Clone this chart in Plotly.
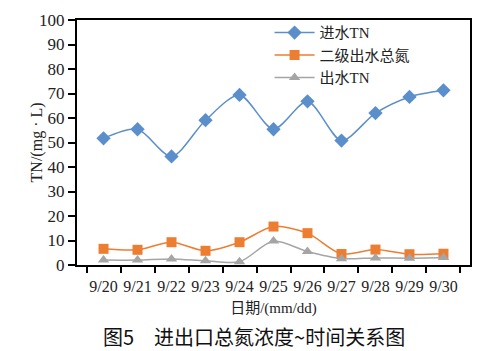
import plotly.graph_objects as go

dates = ["9/20", "9/21", "9/22", "9/23", "9/24", "9/25", "9/26", "9/27", "9/28", "9/29", "9/30"]
inflow_tn = [51.7, 55.4, 44.3, 59.1, 69.4, 55.4, 66.8, 50.8, 62.0, 68.6, 71.3]
secondary_tn = [6.6, 6.2, 9.3, 5.8, 9.3, 15.7, 13.0, 4.5, 6.3, 4.4, 4.6]
outflow_tn = [2.0, 2.0, 2.5, 1.7, 1.3, 9.8, 5.5, 2.6, 2.9, 2.8, 3.1]
y_ticks = [0, 10, 20, 30, 40, 50, 60, 70, 80, 90, 100]

serif = "Liberation Serif, Noto Sans CJK SC, serif"

fig = go.Figure()
fig.add_trace(go.Scatter(x=dates, y=inflow_tn, name="进水TN", mode="lines+markers",
                         line=dict(color="#5B8FCB", width=1.5, shape="spline", smoothing=0.8),
                         marker=dict(symbol="diamond", size=11, color="#5B8FCB")))
fig.add_trace(go.Scatter(x=dates, y=secondary_tn, name="二级出水总氮", mode="lines+markers",
                         line=dict(color="#ED7D31", width=1.5, shape="spline", smoothing=0.8),
                         marker=dict(symbol="square", size=10, color="#ED7D31")))
fig.add_trace(go.Scatter(x=dates, y=outflow_tn, name="出水TN", mode="lines+markers",
                         line=dict(color="#A5A5A5", width=1.5, shape="spline", smoothing=0.8),
                         marker=dict(symbol="triangle-up", size=10, color="#A5A5A5")))

fig.update_layout(
    width=502, height=351,
    margin=dict(l=77, r=32, t=11, b=86),
    paper_bgcolor="white", plot_bgcolor="white",
    font=dict(family=serif, size=16, color="#222"),
    showlegend=True,
    legend=dict(x=0.49, y=1.015, xanchor="left", yanchor="top", bgcolor="rgba(0,0,0,0)",
                font=dict(size=15), tracegroupgap=0, itemwidth=40),
    xaxis=dict(type="category", showline=True, linecolor="black", linewidth=2, mirror=True,
               ticks="outside", tickson="boundaries", ticklen=6, tickcolor="black", tickwidth=1.5,
               showgrid=False, tickangle=0, tickfont=dict(size=16), ticklabelstandoff=6,
               title=dict(text="日期/(mm/dd)", font=dict(size=15), standoff=8)),
    yaxis=dict(range=[0, 100], tickvals=y_ticks, showline=True, linecolor="black", linewidth=2,
               mirror=True, ticks="outside", ticklen=7, tickcolor="black", tickwidth=1.5,
               showgrid=False, zeroline=False, tickfont=dict(size=17)),
)
fig.add_annotation(text="TN/(mg · L)", xref="paper", yref="paper", x=-0.102, y=0.5,
                   xanchor="center", yanchor="middle", textangle=-90, showarrow=False,
                   font=dict(size=16))
fig.add_annotation(text="图5　进出口总氮浓度~时间关系图", xref="paper", yref="paper",
                   x=0.45, y=-0.225, xanchor="center", yanchor="top", showarrow=False,
                   font=dict(size=20, family="Noto Sans CJK SC, serif", color="#111"))

fig.write_html("out.html")
